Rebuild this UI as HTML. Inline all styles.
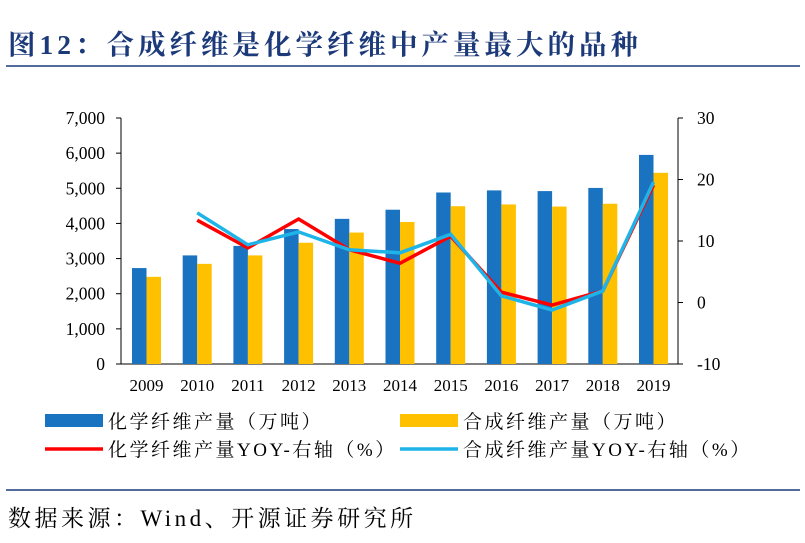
<!DOCTYPE html>
<html><head><meta charset="utf-8"><style>
body{margin:0;background:#fff;width:805px;height:543px;overflow:hidden;font-family:"Liberation Serif","Noto Serif CJK SC",serif;}
</style></head><body>
<svg width="805" height="543" xmlns="http://www.w3.org/2000/svg" style="position:absolute;left:0;top:0">
<text x="8" y="54" font-size="27.5" font-weight="bold" letter-spacing="4" fill="#1c3a7a" font-family="Liberation Serif,Noto Serif CJK SC,serif">图12：合成纤维是化学纤维中产量最大的品种</text>
<line x1="6" y1="66" x2="800" y2="66" stroke="#1c3a7a" stroke-width="1.5"/>
<line x1="6" y1="490" x2="800" y2="490" stroke="#1c3a7a" stroke-width="1.5"/>
<text x="8" y="526" font-size="23" letter-spacing="3.5" fill="#000">数据来源：Wind、开源证券研究所</text>
<g id="c"></g>
</svg>
<script>
var g=document.getElementById('c'),h='';
var y0=364,k=246/7000;
for(var i=0;i<=7;i++){var y=y0-i*1000*k;h+='<line x1="116" y1="'+y+'" x2="121" y2="'+y+'" stroke="#000"/><text x="105" y="'+(y+6)+'" font-size="17.5" text-anchor="end">'+(i?i+','+'000':'0')+'</text>';}
for(var j=0;j<5;j++){var v=30-j*10,y=118+j*61.5;h+='<line x1="678" y1="'+y+'" x2="683" y2="'+y+'" stroke="#000"/><text x="697" y="'+(y+6)+'" font-size="17.5">'+v+'</text>';}
h+='<line x1="121" y1="118" x2="121" y2="364" stroke="#000"/><line x1="678" y1="118" x2="678" y2="364" stroke="#000"/><line x1="121" y1="364" x2="678" y2="364" stroke="#000"/>';
var a=[2730,3090,3360,3840,4130,4390,4880,4940,4920,5010,5950],b=[2480,2850,3090,3450,3740,4040,4490,4540,4480,4560,5440];
var r=[null,13.3,8.8,13.5,8.5,6.3,10.7,1.6,-0.5,1.8,19],c=[null,14.5,9.3,11.4,8.5,8,11,1,-1.3,1.8,19.5];
var sp=50.7,x0=146.5,pr='',pc='';
for(var i=0;i<11;i++){var cx=x0+i*sp;
h+='<rect x="'+(cx-14.5)+'" y="'+(y0-a[i]*k)+'" width="14.5" height="'+(a[i]*k)+'" fill="#1a73c0"/>';
h+='<rect x="'+cx+'" y="'+(y0-b[i]*k)+'" width="14.5" height="'+(b[i]*k)+'" fill="#ffc000"/>';
h+='<text x="'+cx+'" y="391" font-size="17" text-anchor="middle">'+(2009+i)+'</text>';
if(r[i]!=null){pr+=cx+','+(302-r[i]*6.15)+' ';pc+=cx+','+(302-c[i]*6.15)+' ';}}
h+='<polyline points="'+pr+'" fill="none" stroke="#ff0000" stroke-width="3.5"/>';
h+='<polyline points="'+pc+'" fill="none" stroke="#1eb4e8" stroke-width="3.5"/>';
var L='font-size="19" letter-spacing="2.5"';
h+='<rect x="45" y="414" width="58" height="13" fill="#1a73c0"/><text x="108" y="428" '+L+'>化学纤维产量（万吨）</text>';
h+='<rect x="400" y="414" width="58" height="13" fill="#ffc000"/><text x="463" y="428" '+L+'>合成纤维产量（万吨）</text>';
h+='<line x1="45" y1="449" x2="103" y2="449" stroke="#ff0000" stroke-width="3.5"/><text x="108" y="456" '+L+'>化学纤维产量YOY-右轴（%）</text>';
h+='<line x1="400" y1="449" x2="458" y2="449" stroke="#1eb4e8" stroke-width="3.5"/><text x="463" y="456" '+L+'>合成纤维产量YOY-右轴（%）</text>';
g.innerHTML=h;
</script>
</body></html>
